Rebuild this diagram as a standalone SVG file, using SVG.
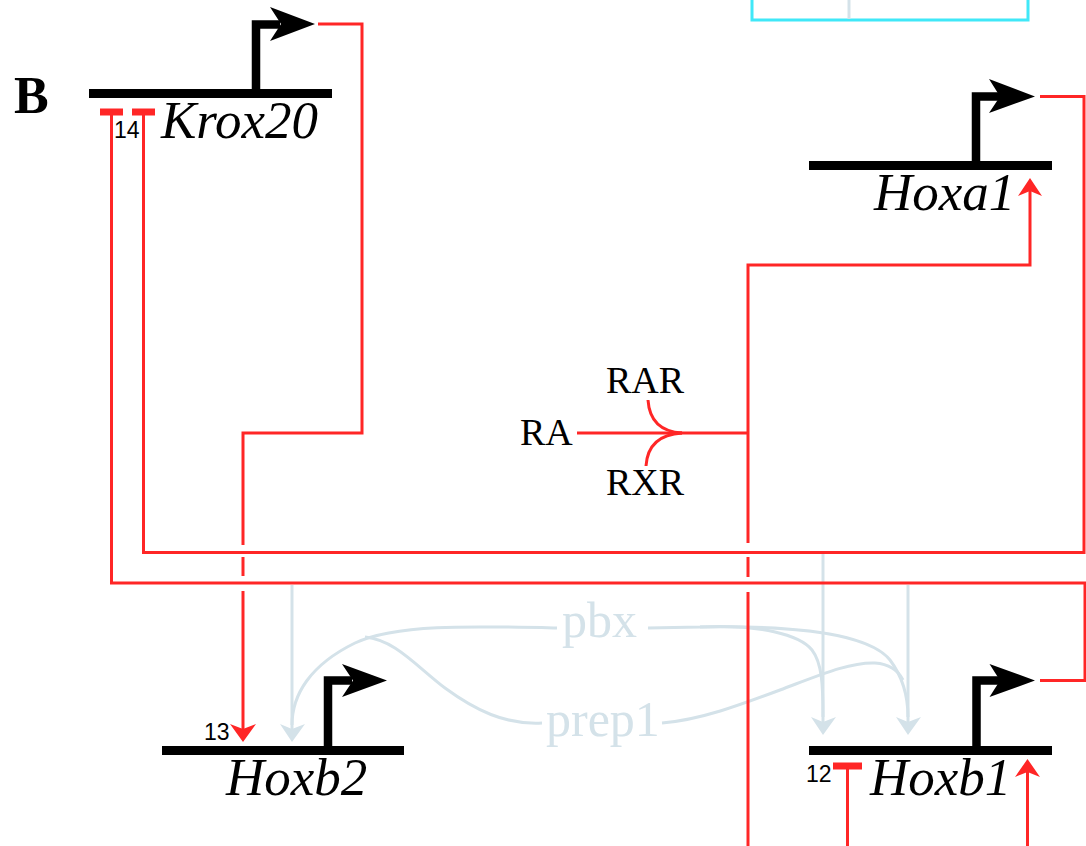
<svg xmlns="http://www.w3.org/2000/svg" width="1086" height="846" viewBox="0 0 1086 846">
<style>
.gene{font-family:"Liberation Serif",serif;font-style:italic;font-size:53px;fill:#000}
.lbl{font-family:"Liberation Serif",serif;font-size:38px;fill:#000}
.pale{font-family:"Liberation Serif",serif;font-size:50px;fill:#d4e2e9}
.num{font-family:"Liberation Sans",sans-serif;font-size:23px;fill:#000}
.bar{stroke:#000;stroke-width:9;fill:none}
.prom{stroke:#000;stroke-width:8.5;fill:none}
.red{stroke:#ff2626;stroke-width:3;fill:none}
.redf{fill:#ff2626}
.pl{stroke:#d4e2e9;stroke-width:3;fill:none}
.plf{fill:#d4e2e9}
</style>
<rect width="1086" height="846" fill="#fff"/>
<g id="topbox">
<polyline points="752,-5 752,20 1028,20 1028,-5" fill="none" stroke="#40e8f8" stroke-width="3"/>
<line x1="849" y1="-5" x2="849" y2="19" stroke="#d4e2e9" stroke-width="3"/>
</g>
<text x="14" y="113" font-family="Liberation Serif, serif" font-weight="bold" font-size="52">B</text>
<g id="connectors">
<g id="pale">
<line class="pl" x1="292" y1="585" x2="292" y2="730"/>
<polygon class="plf" points="292,742 280,724 292,729 305,724"/>
<line class="pl" x1="823" y1="554" x2="823" y2="724"/>
<polygon class="plf" points="823,735 811,717 823,722 836,717"/>
<line class="pl" x1="908" y1="585" x2="908" y2="724"/>
<polygon class="plf" points="908,735 896,717 908,722 921,717"/>
<path class="pl" d="M557,628 C470,626 395,624 355,643 C310,665 292,695 292,725"/>
<path class="pl" d="M542,723 C505,725 475,710 445,688 C415,665 395,640 365,637"/>
<path class="pl" d="M648,628 L700,627 C760,624 800,635 812,650 C822,663 823,685 823,717"/>
<path class="pl" d="M700,627 C800,625 870,635 890,660 C905,680 908,700 908,717"/>
<path class="pl" d="M662,723 C700,720 740,705 780,690 C820,675 850,662 875,663 C890,664 898,670 903,680"/>
</g>
<polyline class="red" points="318,24 362,24 362,433 243,433 243,545"/>
<line class="red" x1="243" y1="557" x2="243" y2="576"/>
<line class="red" x1="243" y1="591" x2="243" y2="730"/>
<polygon class="redf" points="243,742 230,724 243,729 256,724"/>
<polyline class="red" points="1040,96.5 1084,96.5 1084,552.5 143.5,552.5 143.5,114"/>
<rect class="redf" x="132" y="108.5" width="23" height="7"/>
<polyline class="red" points="1040,680.5 1085,680.5 1085,583 111.5,583 111.5,114"/>
<rect class="redf" x="100" y="108.5" width="23" height="7"/>
<line class="red" x1="577" y1="433" x2="748" y2="433"/>
<path class="red" d="M648,400 Q650,431 682,433"/>
<path class="red" d="M646,466 Q648,435 682,433"/>
<polyline class="red" points="748,543 748,265 1030,265 1030,190"/>
<polygon class="redf" points="1030,178 1042,196 1030,191 1018,196"/>
<line class="red" x1="748" y1="557" x2="748" y2="577"/>
<line class="red" x1="748" y1="592" x2="748" y2="846"/>
<line class="red" x1="847.5" y1="766" x2="847.5" y2="846"/>
<rect class="redf" x="833" y="762.5" width="29" height="7"/>
<line class="red" x1="1027.5" y1="771" x2="1027.5" y2="846"/>
<polygon class="redf" points="1027.5,759 1040,777 1027.5,772 1015,777"/>
</g>
<g id="Krox20">
<line class="bar" x1="89" y1="93.5" x2="332" y2="93.5"/>
<polyline class="prom" points="256,90 256,24.5 280,24.5"/>
<polygon points="270,7 315,24 270,41 281,24"/>
<text class="gene" x="161" y="138">Krox20</text>
<text class="num" x="114" y="138">14</text>
</g>
<g id="Hoxa1">
<line class="bar" x1="809" y1="165.5" x2="1052" y2="165.5"/>
<polyline class="prom" points="976,162 976,96.5 1000,96.5"/>
<polygon points="989,79 1035,96.5 989,113 1000,96.5"/>
<text class="gene" x="874" y="210">Hoxa1</text>
</g>
<g id="Hoxb2">
<line class="bar" x1="162" y1="750.5" x2="404" y2="750.5"/>
<polyline class="prom" points="328,747 328,680.5 352,680.5"/>
<polygon points="342,664 387,680.5 342,697 353,680.5"/>
<text class="gene" x="226" y="795">Hoxb2</text>
<text class="num" x="204" y="740">13</text>
</g>
<g id="Hoxb1">
<line class="bar" x1="809" y1="750.5" x2="1052" y2="750.5"/>
<polyline class="prom" points="976.5,747 976.5,680.5 1000,680.5"/>
<polygon points="989.5,664 1035,680.5 989.5,697 1000,680.5"/>
<text class="gene" x="870" y="795">Hoxb1</text>
<text class="num" x="806" y="782">12</text>
</g>
<g id="RA"><text class="lbl" x="520" y="445">RA</text></g>
<g id="RAR"><text class="lbl" x="606" y="393">RAR</text></g>
<g id="RXR"><text class="lbl" x="606" y="495">RXR</text></g>
<g id="pbx"><text class="pale" x="562" y="637">pbx</text></g>
<g id="prep1"><text class="pale" x="546" y="736">prep1</text></g>
</svg>
